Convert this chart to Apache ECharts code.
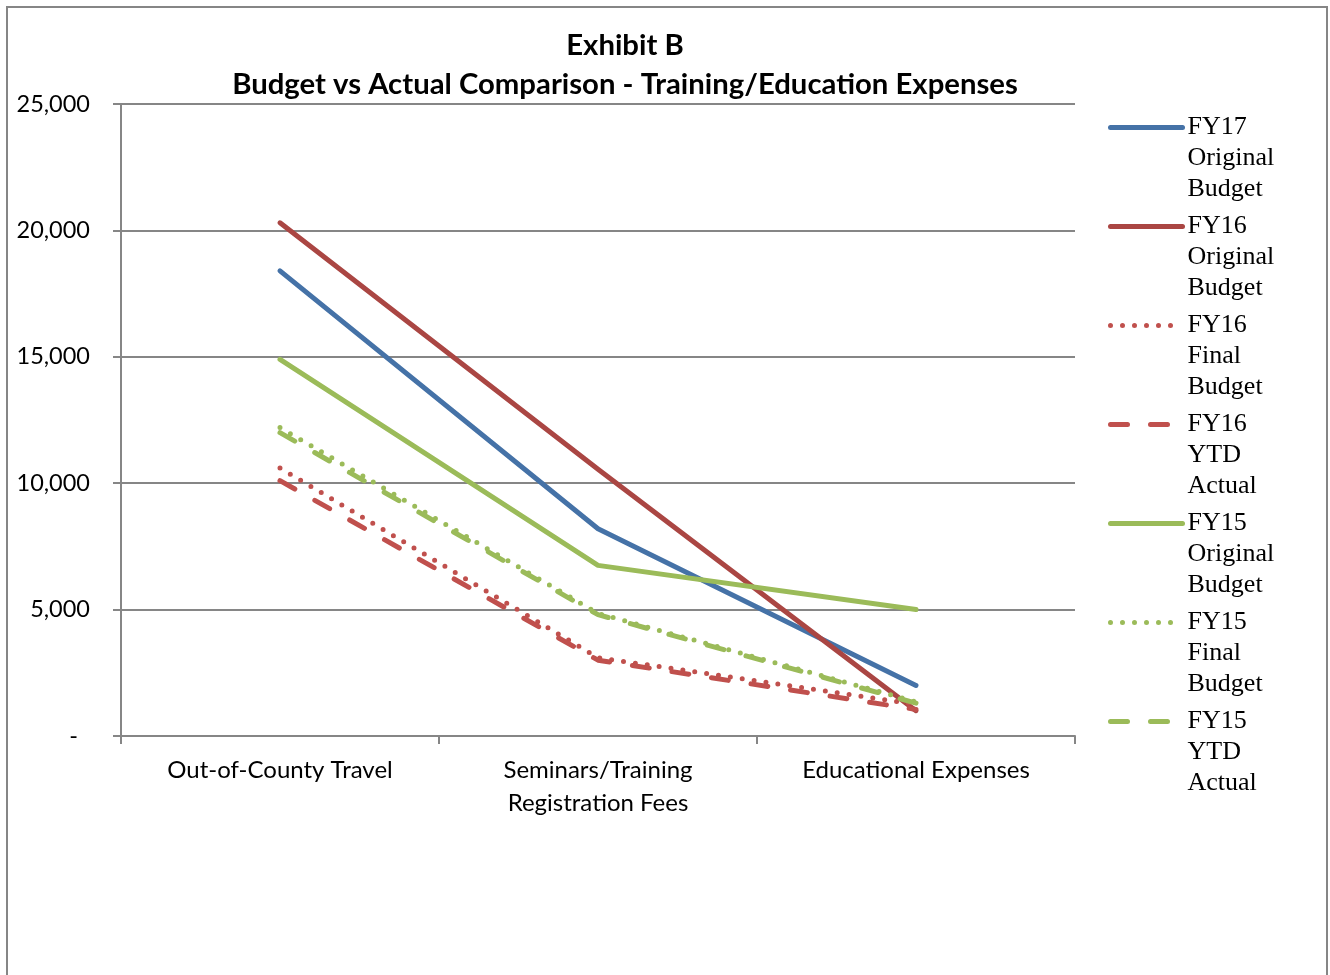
<!DOCTYPE html>
<html>
<head>
<meta charset="utf-8">
<script src="https://cdn.jsdelivr.net/npm/echarts@6/dist/echarts.min.js"></script>
<style>
  html, body { margin: 0; padding: 0; background: #fff; }
  #echart_main { width: 1330px; height: 975px; }
</style>
</head>
<body>
<div id="echart_main"></div>
<script>
// data
var categories = ['Out-of-County Travel', 'Seminars/Training\nRegistration Fees', 'Educational Expenses'];
var fy17Original = [18400, 8200, 2000];
var fy16Original = [20300, 10550, 1000];
var fy16Final = [10600, 3100, 1250];
var fy16Actual = [10100, 3000, 1050];
var fy15Original = [14900, 6750, 5000];
var fy15Final = [12200, 4850, 1350];
var fy15Actual = [12000, 4800, 1300];
var yTicks = [0, 5000, 10000, 15000, 20000, 25000];

var sans = 'Lato, "Open Sans", sans-serif';

function makeLine(name, data, color, type) {
    return {
        name: name,
        type: 'line',
        data: data,
        symbol: 'none',
        color: color,
        lineStyle: { color: color, width: 5, type: type, cap: 'round', join: 'round' },
        emphasis: { disabled: true }
    };
}

var myChart = echarts.init(document.getElementById('echart_main'));
var option = {
    animation: false,
    title: {
        text: 'Exhibit B\nBudget vs Actual Comparison - Training/Education Expenses',
        left: 625,
        top: 26,
        textAlign: 'center',
        padding: 0,
        textStyle: {
            fontFamily: sans,
            fontWeight: 'bold',
            fontSize: 29.3,
            lineHeight: 39,
            color: '#000'
        }
    },
    legend: {
        orient: 'vertical',
        left: 1108,
        top: 50,
        padding: 0,
        itemWidth: 72,
        itemHeight: 14,
        itemGap: -56,
        itemStyle: { opacity: 0 },
        lineStyle: { width: 5, cap: 'round' },
        // two empty lines first so the first text line sits level with the icon
        formatter: function (name) { return '\n\n' + name.replace(/ /g, '\n'); },
        textStyle: {
            fontFamily: '"Liberation Serif", "DejaVu Serif", serif',
            fontSize: 26,
            lineHeight: 31,
            color: '#000'
        },
        data: ['FY17 Original Budget', 'FY16 Original Budget', 'FY16 Final Budget', 'FY16 YTD Actual',
            'FY15 Original Budget', 'FY15 Final Budget', 'FY15 YTD Actual']
    },
    grid: {
        left: 121,
        right: 255,
        top: 104,
        bottom: 239,
        containLabel: false
    },
    xAxis: {
        type: 'category',
        data: categories,
        boundaryGap: true,
        axisLine: { lineStyle: { color: '#868686', width: 2 } },
        axisTick: { show: true, length: 8, lineStyle: { color: '#868686', width: 2 } },
        axisLabel: {
            fontFamily: sans,
            fontSize: 24,
            lineHeight: 33,
            color: '#000',
            margin: 18
        }
    },
    yAxis: {
        type: 'value',
        min: 0,
        max: 25000,
        interval: 5000,
        axisLine: { show: true, lineStyle: { color: '#868686', width: 2 } },
        axisTick: { show: true, length: 8, lineStyle: { color: '#868686', width: 2 } },
        splitLine: { lineStyle: { color: '#868686', width: 2 } },
        axisLabel: {
            fontFamily: sans,
            fontSize: 23.5,
            color: '#000',
            margin: 31,
            formatter: function (v) {
                if (yTicks.indexOf(v) < 0) return '';
                if (v === 0) return '-  ';
                return v.toLocaleString('en-US');
            }
        }
    },
    graphic: [{
        type: 'rect',
        shape: { x: 7, y: 7, width: 1320, height: 1000 },
        style: { fill: 'none', stroke: '#868686', lineWidth: 2 },
        silent: true,
        z: -1
    }],
    series: [
        makeLine('FY17 Original Budget', fy17Original, '#4572A7', 'solid'),
        makeLine('FY16 Original Budget', fy16Original, '#AA4643', 'solid'),
        makeLine('FY16 Final Budget', fy16Final, '#C0504D', [0, 12]),
        makeLine('FY16 YTD Actual', fy16Actual, '#C0504D', [17, 23]),
        makeLine('FY15 Original Budget', fy15Original, '#9BBB59', 'solid'),
        makeLine('FY15 Final Budget', fy15Final, '#9BBB59', [0, 12]),
        makeLine('FY15 YTD Actual', fy15Actual, '#9BBB59', [17, 23])
    ]
};
myChart.setOption(option);
window.onresize = function () {
    myChart.resize();
};
</script>
</body>
</html>
